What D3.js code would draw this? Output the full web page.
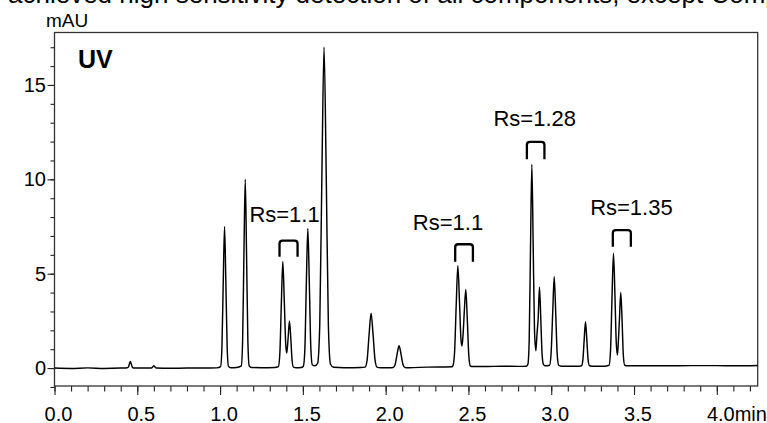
<!DOCTYPE html>
<html>
<head>
<meta charset="utf-8">
<script src="https://cdn.jsdelivr.net/npm/d3@7"></script>
<style>
  body { margin: 0; background: #fff; overflow: hidden; }
  svg { display: block; font-family: Arial, "Liberation Sans", sans-serif; }
</style>
</head>
<body>
<svg id="chart" width="767" height="423"></svg>
<script>
var caption = 'achieved high sensitivity detection of all components, except Comp'
var yTitle = 'mAU'
var detector = 'UV'

var xMajor = [0, 0.5, 1.0, 1.5, 2.0, 2.5, 3.0, 3.5, 4.0]
var xLabels = ['0.0', '0.5', '1.0', '1.5', '2.0', '2.5', '3.0', '3.5', '4.0']
var xUnit = 'min'
var xMinor = d3.range(0, 43).map(function (i) { return i / 10 })
var yMajor = [0, 5, 10, 15]
var yMinor = d3.range(-1, 18)

// chromatogram trace: [time (min), signal (mAU)]
var trace = [
  [0.000, 0.00], [0.100, -0.02], [0.200, 0.01], [0.300, -0.02], [0.400, 0.00],
  [0.440, 0.02], [0.446, 0.05], [0.452, 0.21], [0.458, 0.35], [0.464, 0.21], [0.470, 0.05], [0.478, 0.00],
  [0.530, 0.00], [0.585, 0.00], [0.594, 0.07], [0.600, 0.12], [0.606, 0.07], [0.615, 0.00],
  [0.700, -0.01], [0.800, 0.00], [0.900, 0.00], [0.980, 0.01],
  [1.003, 0.08], [1.011, 1.05], [1.019, 4.50], [1.027, 7.50], [1.035, 4.50], [1.043, 1.05], [1.051, 0.08], [1.065, 0.02],
  [1.100, 0.03], [1.128, 0.12], [1.136, 1.40], [1.144, 6.00], [1.152, 10.00], [1.160, 6.00], [1.168, 1.40], [1.176, 0.12], [1.190, 0.03],
  [1.250, 0.02], [1.330, 0.03],
  [1.352, 0.08], [1.361, 0.78], [1.370, 3.40], [1.379, 5.65], [1.388, 3.50], [1.397, 1.20], [1.403, 0.80],
  [1.411, 1.60], [1.419, 2.50], [1.427, 1.60], [1.435, 0.40], [1.443, 0.05], [1.460, 0.02],
  [1.490, 0.03], [1.503, 0.10], [1.512, 1.00], [1.521, 4.50], [1.530, 7.40], [1.539, 4.50], [1.548, 1.10], [1.557, 0.18],
  [1.572, 0.12], [1.589, 0.25], [1.602, 2.30], [1.615, 10.30], [1.628, 17.00], [1.641, 10.30], [1.654, 2.30], [1.667, 0.20], [1.685, 0.04],
  [1.750, 0.02], [1.850, 0.03],
  [1.876, 0.05], [1.888, 0.42], [1.900, 1.78], [1.912, 2.90], [1.924, 1.78], [1.936, 0.42], [1.948, 0.05], [1.970, 0.02],
  [2.020, 0.02], [2.045, 0.03], [2.057, 0.18], [2.069, 0.73], [2.081, 1.18], [2.093, 0.73], [2.105, 0.18], [2.117, 0.03], [2.140, 0.02],
  [2.250, 0.05], [2.350, 0.06], [2.400, 0.07],
  [2.406, 0.12], [2.416, 0.80], [2.426, 3.30], [2.436, 5.42], [2.446, 3.50], [2.455, 1.50], [2.461, 1.17],
  [2.467, 1.70], [2.475, 3.00], [2.484, 4.17], [2.493, 2.60], [2.502, 0.70], [2.511, 0.12], [2.525, 0.08],
  [2.600, 0.08], [2.700, 0.10], [2.800, 0.09], [2.850, 0.10],
  [2.859, 0.20], [2.867, 1.50], [2.875, 6.50], [2.883, 10.80], [2.891, 6.50], [2.899, 2.00], [2.907, 0.92],
  [2.914, 1.80], [2.921, 2.60], [2.929, 4.28], [2.937, 2.60], [2.945, 0.70], [2.953, 0.20], [2.965, 0.12],
  [2.990, 0.15], [2.999, 0.75], [3.009, 2.95], [3.018, 4.84], [3.027, 2.95], [3.036, 0.75], [3.045, 0.15], [3.060, 0.10],
  [3.120, 0.10], [3.170, 0.10],
  [3.183, 0.12], [3.191, 0.42], [3.199, 1.50], [3.207, 2.45], [3.215, 1.50], [3.223, 0.42], [3.231, 0.12], [3.250, 0.10],
  [3.320, 0.10],
  [3.349, 0.15], [3.358, 0.90], [3.367, 3.70], [3.376, 6.08], [3.385, 3.80], [3.393, 1.30], [3.400, 0.69],
  [3.406, 1.50], [3.412, 2.60], [3.420, 4.01], [3.428, 2.50], [3.436, 0.60], [3.444, 0.15], [3.460, 0.12],
  [3.550, 0.12], [3.700, 0.12], [3.850, 0.13], [4.000, 0.13], [4.100, 0.12], [4.250, 0.14]
]

// resolution labels and the peak pairs they bracket
var rsLabels = ['Rs=1.1', 'Rs=1.1', 'Rs=1.28', 'Rs=1.35']
var rsLabelAt = [[1.177, 7.76], [2.164, 7.31], [2.651, 12.80], [3.235, 8.11]]
var rsPairs = [[1.359, 1.468], [2.420, 2.527], [2.853, 2.959], [3.372, 3.481]]
var rsBracketTop = [6.75, 6.56, 11.99, 7.31]
var rsBracketFoot = [5.90, 5.63, 11.06, 6.43]

var svg = d3.select('#chart')
var plotLeft = 54.5
var plotRight = 757.7
var plotTop = 32.5
var plotBottom = 386

var x = d3.scaleLinear().domain([0, 4.247]).range([plotLeft, plotRight])
var y = d3.scaleLinear().domain([-0.95, 17.78]).range([plotBottom, plotTop])

svg.append('text')
  .attr('x', 8).attr('y', 3)
  .attr('font-size', 26)
  .text(caption)

svg.append('text')
  .attr('x', 46).attr('y', 26.5)
  .attr('font-size', 19)
  .text(yTitle)

svg.append('defs').append('clipPath').attr('id', 'plot')
  .append('rect')
  .attr('x', plotLeft).attr('y', plotTop)
  .attr('width', plotRight - plotLeft).attr('height', plotBottom - plotTop)

// y axis
svg.append('g')
  .attr('transform', 'translate(' + plotLeft + ',0)')
  .call(d3.axisLeft(y).tickValues(yMinor).tickSize(4).tickFormat(''))
var yMajorAxis = svg.append('g')
  .attr('transform', 'translate(' + plotLeft + ',0)')
  .call(d3.axisLeft(y).tickValues(yMajor).tickSize(7).tickPadding(1.5).tickFormat(d3.format('d')))
yMajorAxis.selectAll('text')
  .attr('font-size', 20)
  .attr('fill', '#000')
  .attr('font-family', 'Arial, "Liberation Sans", sans-serif')

// x axis
svg.append('g')
  .attr('transform', 'translate(0,' + plotBottom + ')')
  .call(d3.axisBottom(x).tickValues(xMinor).tickSize(5.5).tickFormat(''))
svg.append('g')
  .attr('transform', 'translate(0,' + plotBottom + ')')
  .call(d3.axisBottom(x).tickValues(xMajor).tickSize(9).tickFormat(''))

svg.selectAll('.domain').remove()
svg.selectAll('.tick line').attr('stroke', '#222').attr('stroke-width', 1.1)

var xLab = svg.append('g').attr('font-size', 20)
xMajor.forEach(function (t, i) {
  var lab = xLab.append('text')
    .attr('x', x(t) + 4).attr('y', 420.5)
    .attr('text-anchor', 'middle')
    .text(xLabels[i])
  if (i === xMajor.length - 1) {
    var w = lab.node().getComputedTextLength()
    xLab.append('text')
      .attr('x', x(t) + 4 + w / 2).attr('y', 420.5)
      .text(xUnit)
  }
})

// frame
svg.append('rect')
  .attr('x', plotLeft).attr('y', plotTop)
  .attr('width', plotRight - plotLeft).attr('height', plotBottom - plotTop)
  .attr('fill', 'none')
  .attr('stroke', '#333')
  .attr('stroke-width', 1.3)

svg.append('text')
  .attr('x', 78).attr('y', 68.3)
  .attr('font-size', 25)
  .attr('font-weight', 'bold')
  .text(detector)

var line = d3.line()
  .x(function (d) { return x(d[0]) })
  .y(function (d) { return y(d[1]) })
  .curve(d3.curveMonotoneX)

svg.append('path')
  .datum(trace)
  .attr('clip-path', 'url(#plot)')
  .attr('d', line)
  .attr('fill', 'none')
  .attr('stroke', '#000')
  .attr('stroke-width', 1.45)
  .attr('stroke-linejoin', 'round')

// resolution brackets
rsPairs.forEach(function (p, i) {
  var x0 = x(p[0])
  var x1 = x(p[1])
  var yt = y(rsBracketTop[i])
  var yb = y(rsBracketFoot[i])
  var r = 3
  svg.append('path')
    .attr('d', 'M' + x0 + ',' + yb + 'L' + x0 + ',' + (yt + r) +
      'Q' + x0 + ',' + yt + ' ' + (x0 + r) + ',' + yt +
      'L' + (x1 - r) + ',' + yt +
      'Q' + x1 + ',' + yt + ' ' + x1 + ',' + (yt + r) +
      'L' + x1 + ',' + yb)
    .attr('fill', 'none')
    .attr('stroke', '#000')
    .attr('stroke-width', 2.3)

  svg.append('text')
    .attr('x', x(rsLabelAt[i][0])).attr('y', y(rsLabelAt[i][1]))
    .attr('font-size', 22)
    .text(rsLabels[i])
})
</script>
</body>
</html>
